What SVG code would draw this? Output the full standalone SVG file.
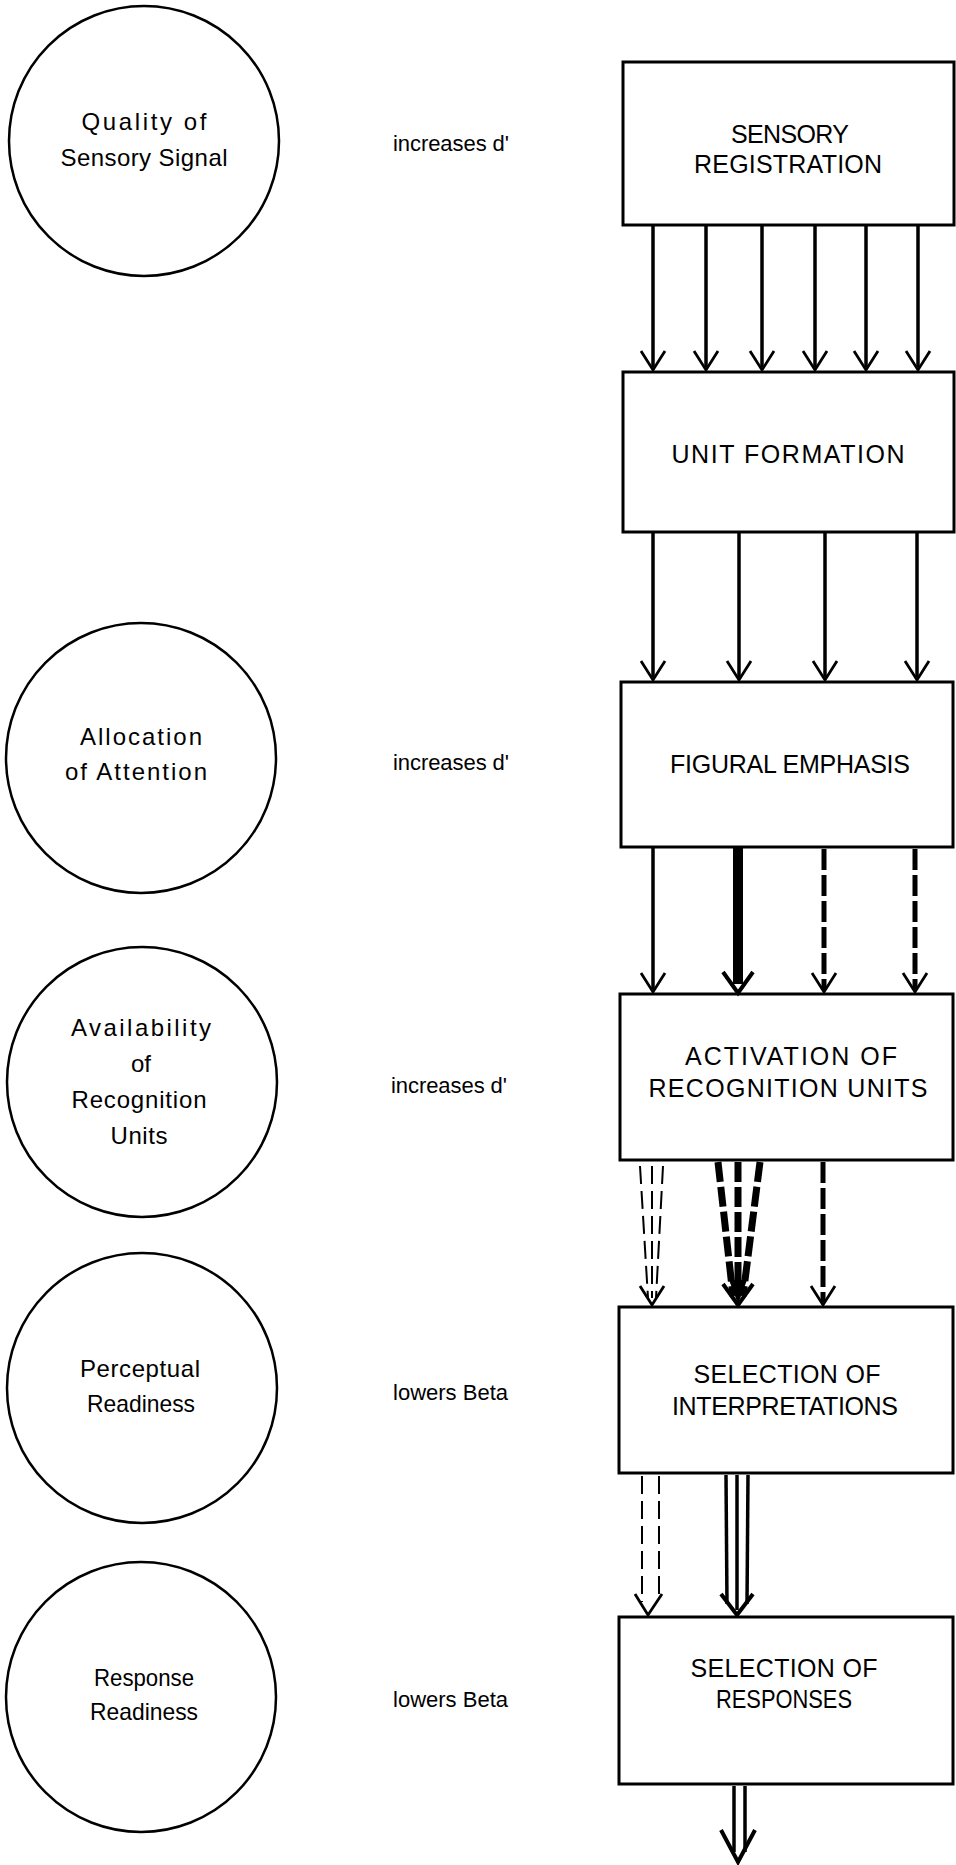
<svg xmlns="http://www.w3.org/2000/svg" xmlns:xlink="http://www.w3.org/1999/xlink" width="956" height="1865" viewBox="0 0 956 1865">
  <style>
    .circ { fill: none; stroke: #000; stroke-width: 2.5; }
    .box { fill: #fff; stroke: #000; stroke-width: 3; }
    text { font-family: "Liberation Sans", Arial, sans-serif; fill: #000; }
    .clbl { font-size: 24px; text-anchor: middle; }
    .blbl { font-size: 25px; text-anchor: middle; }
    .mid { font-size: 22px; text-anchor: start; }
    .shaft { stroke: #000; stroke-width: 3.5; fill: none; }
    .heavy { stroke-width: 10; }
    .dash { stroke-width: 5; stroke-dasharray: 21 5; }
    .thin { stroke-width: 2; stroke-dasharray: 18 7; }
    .taper { stroke-width: 7; stroke-dasharray: 20 5; }
    .head { fill: none; stroke: #000; stroke-width: 2.8; stroke-linejoin: miter; }
    .head-b { fill: none; stroke: #000; stroke-width: 4; stroke-linejoin: miter; }
  </style>
  <defs>
    <path id="vh" d="M-12,-19 L0,0 L12,-19"/>
    <path id="vhb" d="M-15,-21 L0,0 L15,-21"/>
  </defs>

  <rect width="956" height="1865" fill="#fff"/>

  <!-- influence circles -->
  <g id="quality-signal">
    <circle class="circ" cx="144" cy="141" r="135"/>
    <text class="clbl" x="144" y="130" textLength="125" lengthAdjust="spacing">Quality of</text>
    <text class="clbl" x="144" y="166" textLength="167" lengthAdjust="spacing">Sensory Signal</text>
  </g>
  <g id="allocation-attention">
    <circle class="circ" cx="141" cy="758" r="135"/>
    <text class="clbl" x="141" y="745" textLength="122" lengthAdjust="spacing">Allocation</text>
    <text class="clbl" x="136" y="780" textLength="142" lengthAdjust="spacing">of Attention</text>
  </g>
  <g id="availability-units">
    <circle class="circ" cx="142" cy="1082" r="135"/>
    <text class="clbl" x="141" y="1036" textLength="140" lengthAdjust="spacing">Availability</text>
    <text class="clbl" x="141" y="1072">of</text>
    <text class="clbl" x="139" y="1108" textLength="135" lengthAdjust="spacing">Recognition</text>
    <text class="clbl" x="139" y="1144" textLength="57" lengthAdjust="spacing">Units</text>
  </g>
  <g id="perceptual-readiness">
    <circle class="circ" cx="142" cy="1388" r="135"/>
    <text class="clbl" x="140" y="1377" textLength="120" lengthAdjust="spacing">Perceptual</text>
    <text class="clbl" x="141" y="1412" textLength="108" lengthAdjust="spacingAndGlyphs">Readiness</text>
  </g>
  <g id="response-readiness">
    <circle class="circ" cx="141" cy="1697" r="135"/>
    <text class="clbl" x="144" y="1686" textLength="100" lengthAdjust="spacingAndGlyphs">Response</text>
    <text class="clbl" x="144" y="1720" textLength="108" lengthAdjust="spacingAndGlyphs">Readiness</text>
  </g>

  <!-- effect labels -->
  <g id="effects">
    <text class="mid" x="393" y="151" textLength="116" lengthAdjust="spacing">increases d'</text>
    <text class="mid" x="393" y="770" textLength="116" lengthAdjust="spacing">increases d'</text>
    <text class="mid" x="391" y="1093" textLength="116" lengthAdjust="spacing">increases d'</text>
    <text class="mid" x="393" y="1400" textLength="115" lengthAdjust="spacing">lowers Beta</text>
    <text class="mid" x="393" y="1707" textLength="115" lengthAdjust="spacing">lowers Beta</text>
  </g>

  <!-- processing stages -->
  <g id="sensory-registration">
    <rect class="box" x="623" y="62" width="331" height="163"/>
    <text class="blbl" x="790" y="143" textLength="118" lengthAdjust="spacing">SENSORY</text>
    <text class="blbl" x="788" y="173" textLength="188" lengthAdjust="spacing">REGISTRATION</text>
  </g>
  <g id="unit-formation">
    <rect class="box" x="623" y="372" width="331" height="160"/>
    <text class="blbl" x="788" y="463" textLength="233" lengthAdjust="spacing">UNIT FORMATION</text>
  </g>
  <g id="figural-emphasis">
    <rect class="box" x="621" y="682" width="332" height="165"/>
    <text class="blbl" x="790" y="773" textLength="240" lengthAdjust="spacing">FIGURAL EMPHASIS</text>
  </g>
  <g id="activation-units">
    <rect class="box" x="620" y="994" width="333" height="166"/>
    <text class="blbl" x="791" y="1065" textLength="212" lengthAdjust="spacing">ACTIVATION OF</text>
    <text class="blbl" x="788" y="1097" textLength="279" lengthAdjust="spacing">RECOGNITION UNITS</text>
  </g>
  <g id="selection-interpretations">
    <rect class="box" x="619" y="1307" width="334" height="166"/>
    <text class="blbl" x="787" y="1383" textLength="187" lengthAdjust="spacing">SELECTION OF</text>
    <text class="blbl" x="785" y="1415" textLength="226" lengthAdjust="spacing">INTERPRETATIONS</text>
  </g>
  <g id="selection-responses">
    <rect class="box" x="619" y="1617" width="334" height="167"/>
    <text class="blbl" x="784" y="1677" textLength="187" lengthAdjust="spacing">SELECTION OF</text>
    <text class="blbl" x="784" y="1708" textLength="136" lengthAdjust="spacingAndGlyphs">RESPONSES</text>
  </g>

  <!-- connectors -->
  <g id="connectors">
    <!-- registration to unit formation -->
    <line class="shaft" x1="653" y1="226" x2="653" y2="367"/>
    <line class="shaft" x1="706" y1="226" x2="706" y2="367"/>
    <line class="shaft" x1="762" y1="226" x2="762" y2="367"/>
    <line class="shaft" x1="815" y1="226" x2="815" y2="367"/>
    <line class="shaft" x1="866" y1="226" x2="866" y2="367"/>
    <line class="shaft" x1="918" y1="226" x2="918" y2="367"/>
    <use xlink:href="#vh" class="head" x="653" y="370"/>
    <use xlink:href="#vh" class="head" x="706" y="370"/>
    <use xlink:href="#vh" class="head" x="762" y="370"/>
    <use xlink:href="#vh" class="head" x="815" y="370"/>
    <use xlink:href="#vh" class="head" x="866" y="370"/>
    <use xlink:href="#vh" class="head" x="918" y="370"/>

    <!-- unit formation to figural emphasis -->
    <line class="shaft" x1="653" y1="533" x2="653" y2="677"/>
    <line class="shaft" x1="739" y1="533" x2="739" y2="677"/>
    <line class="shaft" x1="825" y1="533" x2="825" y2="677"/>
    <line class="shaft" x1="917" y1="533" x2="917" y2="677"/>
    <use xlink:href="#vh" class="head" x="653" y="680"/>
    <use xlink:href="#vh" class="head" x="739" y="680"/>
    <use xlink:href="#vh" class="head" x="825" y="680"/>
    <use xlink:href="#vh" class="head" x="917" y="680"/>

    <!-- figural emphasis to activation -->
    <line class="shaft" x1="653" y1="848" x2="653" y2="989"/>
    <line class="shaft heavy" x1="738" y1="848" x2="738" y2="984"/>
    <line class="shaft dash" x1="824" y1="849" x2="824" y2="989"/>
    <line class="shaft dash" x1="915" y1="849" x2="915" y2="989"/>
    <use xlink:href="#vh" class="head" x="653" y="992"/>
    <use xlink:href="#vhb" class="head-b" x="738" y="993"/>
    <use xlink:href="#vh" class="head" x="824" y="992"/>
    <use xlink:href="#vh" class="head" x="915" y="992"/>

    <!-- activation to selection of interpretations -->
    <line class="shaft thin" x1="640" y1="1166" x2="648" y2="1298"/>
    <line class="shaft thin" x1="652" y1="1166" x2="652" y2="1298"/>
    <line class="shaft thin" x1="663" y1="1166" x2="656" y2="1298"/>
    <use xlink:href="#vh" class="head" x="652" y="1305"/>
    <line class="shaft taper" x1="718" y1="1162" x2="733" y2="1296"/>
    <line class="shaft taper" x1="738" y1="1162" x2="738" y2="1296"/>
    <line class="shaft taper" x1="760" y1="1162" x2="743" y2="1296"/>
    <polygon points="729,1280 747,1280 738,1304" fill="#000"/>
    <use xlink:href="#vhb" class="head-b" x="738" y="1305"/>
    <line class="shaft dash" x1="823" y1="1162" x2="823" y2="1302"/>
    <use xlink:href="#vh" class="head" x="823" y="1305"/>

    <!-- interpretations to responses -->
    <line class="shaft thin" x1="642" y1="1476" x2="642" y2="1602"/>
    <line class="shaft thin" x1="659" y1="1476" x2="659" y2="1600"/>
    <polyline class="head" points="635,1594 648,1615 662,1594"/>
    <line class="shaft" x1="726" y1="1475" x2="727" y2="1604"/>
    <line class="shaft" x1="737" y1="1475" x2="737" y2="1610"/>
    <line class="shaft" x1="748" y1="1475" x2="747" y2="1604"/>
    <polyline class="head-b" points="721,1594 737,1615 753,1594"/>

    <!-- output of responses -->
    <line class="shaft" x1="734" y1="1786" x2="734" y2="1852"/>
    <line class="shaft" x1="745" y1="1786" x2="745" y2="1852"/>
    <polyline class="head-b" points="721,1830 738,1862 755,1830"/>
  </g>
</svg>
